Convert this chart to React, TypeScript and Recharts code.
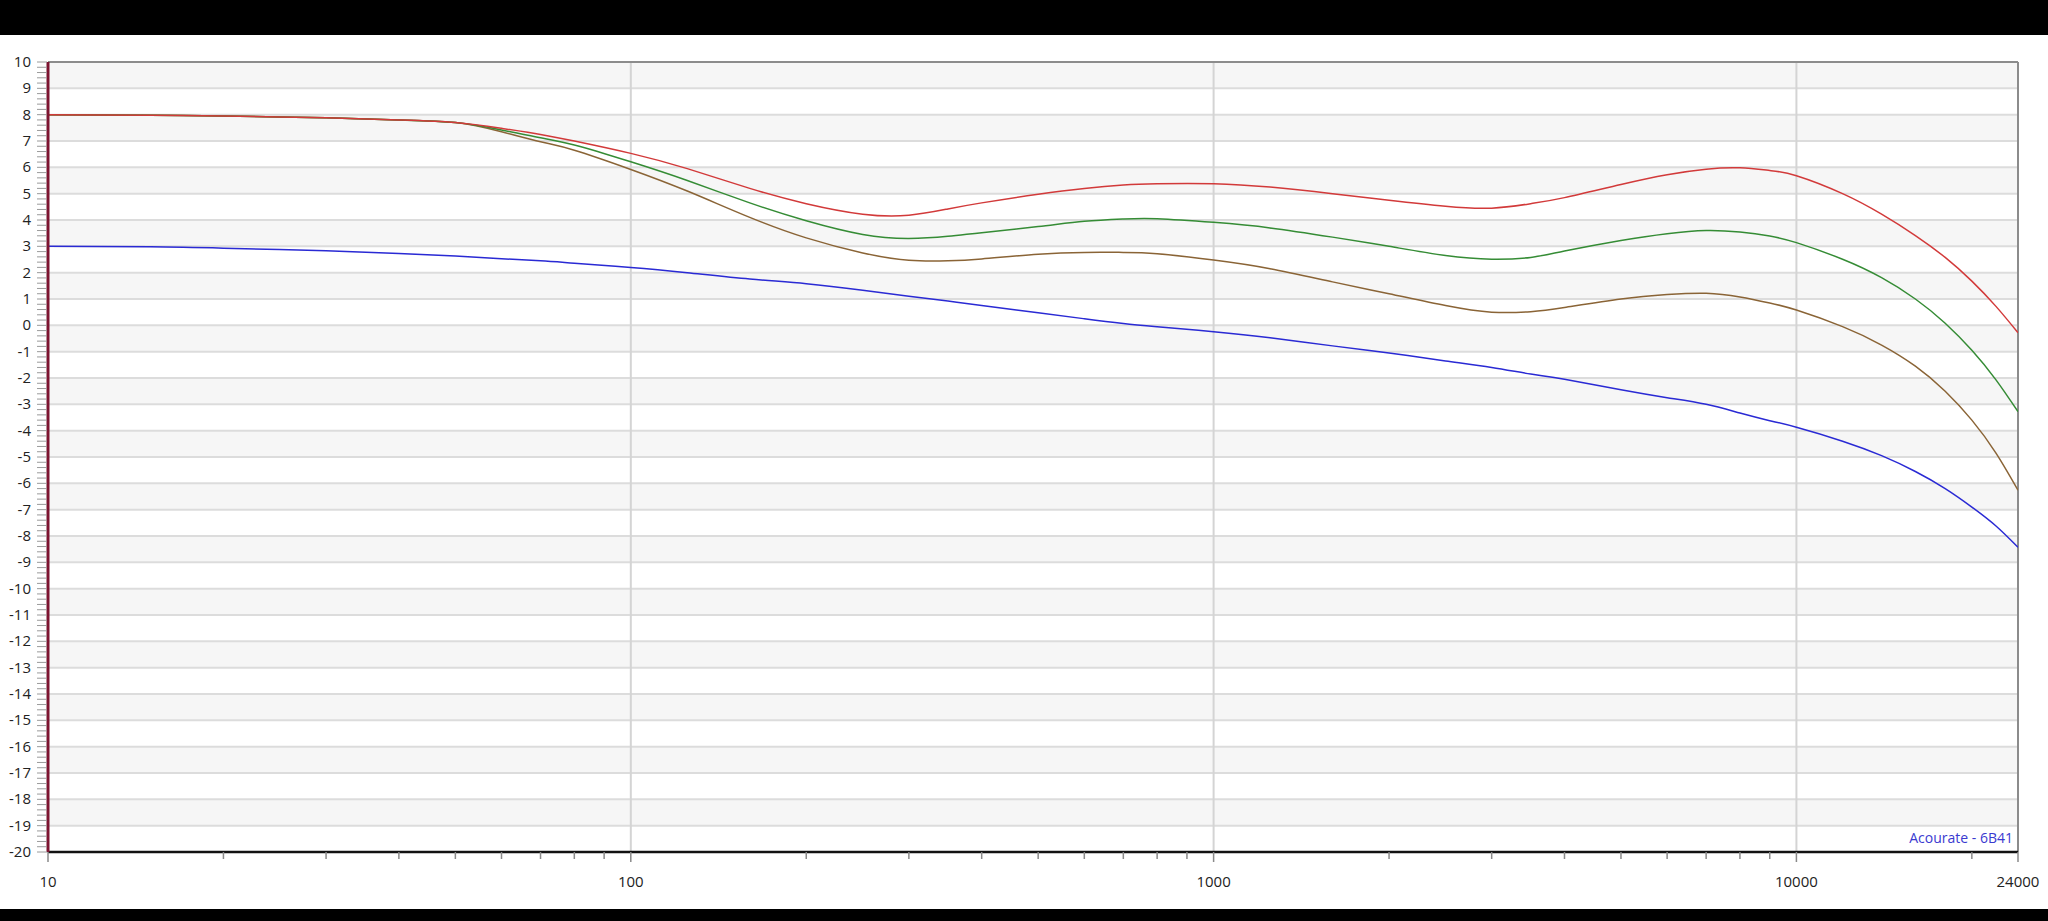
import React from "react";
import {
  LineChart,
  Line,
  XAxis,
  YAxis,
  ReferenceArea,
  ReferenceLine,
} from "recharts";

// frequency points (Hz)
const freqs = [
  10, 15, 20, 30, 40, 50, 60, 70, 80, 100, 125, 160, 200, 250, 300, 350, 400,
  500, 600, 700, 800, 1000, 1250, 1600, 2000, 2500, 3000, 3500, 4000, 5000,
  6000, 7000, 8000, 9000, 10000, 12000, 14000, 16000, 18000, 20000, 22000,
  24000,
];

// dB values per curve
const redCurve = [
  8.0, 7.98, 7.95, 7.88, 7.8, 7.7, 7.48, 7.25, 7.0, 6.53, 5.95, 5.2, 4.62,
  4.22, 4.18, 4.42, 4.65, 4.98, 5.2, 5.33, 5.38, 5.38, 5.25, 5.0, 4.75, 4.52,
  4.45, 4.62, 4.85, 5.35, 5.72, 5.93, 5.98, 5.88, 5.68, 5.0, 4.22, 3.41, 2.58,
  1.68, 0.72, -0.28,
];
const greenCurve = [
  8.0, 7.98, 7.95, 7.88, 7.8, 7.7, 7.42, 7.12, 6.85, 6.21, 5.5, 4.65, 3.97,
  3.45, 3.3, 3.38, 3.52, 3.75, 3.95, 4.04, 4.05, 3.91, 3.7, 3.35, 3.0, 2.65,
  2.51, 2.58, 2.82, 3.22, 3.48, 3.6, 3.54, 3.39, 3.14, 2.51, 1.81, 1.0, 0.08,
  -0.95, -2.07, -3.28,
];
const brownCurve = [
  8.0, 7.98, 7.95, 7.88, 7.8, 7.7, 7.35, 6.97, 6.65, 5.92, 5.1, 4.1, 3.32,
  2.75, 2.47, 2.45, 2.52, 2.7, 2.77, 2.77, 2.72, 2.48, 2.15, 1.65, 1.2, 0.75,
  0.5, 0.52, 0.68, 1.0, 1.17, 1.22, 1.08, 0.85, 0.58, -0.05, -0.75, -1.55,
  -2.5, -3.6, -4.85, -6.26,
];
const blueCurve = [
  3.0, 2.98, 2.93, 2.83, 2.73, 2.63, 2.53, 2.45, 2.36, 2.2, 2.0, 1.76, 1.58,
  1.33, 1.1, 0.92, 0.75, 0.48, 0.25, 0.07, -0.05, -0.24, -0.47, -0.78, -1.05,
  -1.35, -1.6, -1.85, -2.05, -2.45, -2.75, -3.0, -3.33, -3.62, -3.87, -4.4,
  -4.95, -5.55, -6.2, -6.9, -7.62, -8.43,
];

const xTicks = [
  10, 20, 30, 40, 50, 60, 70, 80, 90, 100, 200, 300, 400, 500, 600, 700, 800,
  900, 1000, 2000, 3000, 4000, 5000, 6000, 7000, 8000, 9000, 10000, 20000,
  24000,
];
const xLabels = [10, 100, 1000, 10000, 24000];
const xGrid = [100, 1000, 10000];

const yMajor: number[] = [];
for (let v = -20; v <= 10; v++) yMajor.push(v);
const yMinor: number[] = [];
for (let i = -100; i <= 50; i++) yMinor.push(i / 5);

const data = freqs.map((f, i) => ({
  f,
  red: redCurve[i],
  green: greenCurve[i],
  brown: brownCurve[i],
  blue: blueCurve[i],
}));

const FONT = "'Open Sans', 'Noto Sans', sans-serif";

const YTick = (props: any) => {
  const { x, y, payload } = props;
  const v = payload.value;
  const isMajor = Math.abs(v - Math.round(v)) < 1e-6;
  return (
    <g>
      <line x1={x - 11} x2={x - 1} y1={y} y2={y} stroke="#9a9a9a" strokeWidth={1} />
      {isMajor && (
        <text
          x={x - 17}
          y={y}
          dy={5}
          textAnchor="end"
          fill="#222"
          fontSize={15}
          fontFamily={FONT}
        >
          {Math.round(v)}
        </text>
      )}
    </g>
  );
};

const XTick = (props: any) => {
  const { x, y, payload } = props;
  const v = payload.value;
  const isLabel = xLabels.includes(v);
  return (
    <g>
      <line x1={x} x2={x} y1={y} y2={y + (isLabel ? 10 : 7)} stroke="#8a8a8a" strokeWidth={1.5} />
      {isLabel && (
        <text
          x={x}
          y={y + 35}
          textAnchor="middle"
          fill="#222"
          fontSize={15}
          fontFamily={FONT}
        >
          {v}
        </text>
      )}
    </g>
  );
};

export default function App() {
  return (
    <div
      style={{
        position: "absolute",
        left: 0,
        top: 0,
        width: 2048,
        height: 921,
        background: "#000",
        overflow: "hidden",
      }}
    >
      <div
        style={{
          position: "absolute",
          left: 0,
          top: 35,
          width: 2048,
          height: 874,
          background: "#fff",
        }}
      >
        <LineChart
          width={2048}
          height={874}
          data={data}
          margin={{ top: 27, right: 30, left: 0, bottom: 0 }}
        >
          <XAxis
            dataKey="f"
            type="number"
            scale="log"
            domain={[10, 24000]}
            ticks={xTicks}
            interval={0}
            height={57}
            tickSize={0}
            tickMargin={0}
            tick={<XTick />}
            axisLine={{ stroke: "#111", strokeWidth: 2.5 }}
            allowDataOverflow
          />
          <YAxis
            type="number"
            domain={[-20, 10]}
            ticks={yMinor}
            interval={0}
            width={48}
            tickSize={0}
            tickMargin={0}
            tick={<YTick />}
            axisLine={{ stroke: "#7d1430", strokeWidth: 3 }}
            allowDataOverflow
          />
          {yMajor
            .filter((v) => v < 10 && Math.abs(v % 2) === 1)
            .map((v) => (
              <ReferenceArea
                key={"band" + v}
                y1={v}
                y2={v + 1}
                fill="#f6f6f6"
                fillOpacity={1}
                stroke="none"
                ifOverflow="visible"
              />
            ))}
          {yMajor
            .filter((v) => v > -20 && v < 10)
            .map((v) => (
              <ReferenceLine
                key={"h" + v}
                y={v}
                stroke="#dcdcdc"
                strokeWidth={2}
                ifOverflow="visible"
              />
            ))}
          {xGrid.map((v) => (
            <ReferenceLine
              key={"v" + v}
              x={v}
              stroke="#d4d4d4"
              strokeWidth={2}
              ifOverflow="visible"
            />
          ))}
          <ReferenceLine y={10} stroke="#8c8c8c" strokeWidth={2} ifOverflow="visible" />
          <ReferenceLine x={24000} stroke="#8c8c8c" strokeWidth={2} ifOverflow="visible" />
          <Line type="natural" dataKey="blue" stroke="#2a2ad4" strokeWidth={1.5} dot={false} isAnimationActive={false} />
          <Line type="natural" dataKey="brown" stroke="#8a6436" strokeWidth={1.5} dot={false} isAnimationActive={false} />
          <Line type="natural" dataKey="green" stroke="#358c35" strokeWidth={1.5} dot={false} isAnimationActive={false} />
          <Line type="natural" dataKey="red" stroke="#d23a3a" strokeWidth={1.5} dot={false} isAnimationActive={false} />
        </LineChart>
        <span
          style={{
            position: "absolute",
            right: 35,
            top: 793,
            fontFamily: FONT,
            fontSize: 14,
            color: "#3a3ad0",
            whiteSpace: "nowrap",
          }}
        >
          Acourate - 6B41
        </span>
      </div>
    </div>
  );
}
